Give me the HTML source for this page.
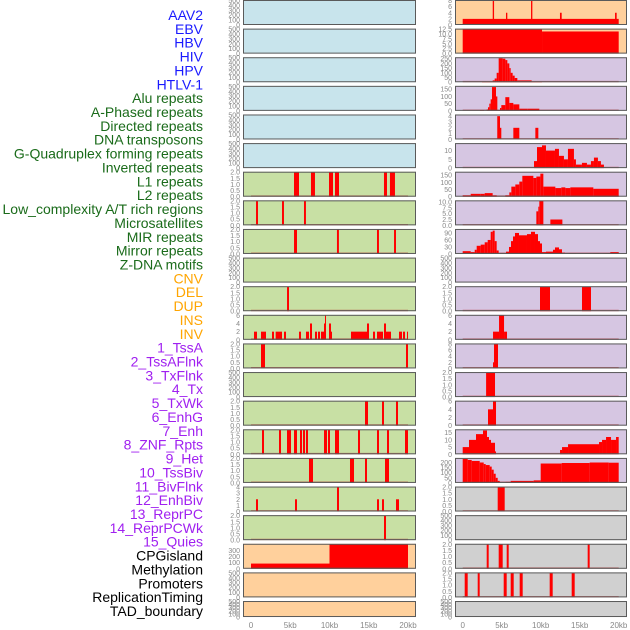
<!DOCTYPE html>
<html><head><meta charset="utf-8">
<style>
html,body{margin:0;padding:0;background:#fff;width:630px;height:630px;overflow:hidden}
svg{display:block}
text{font-family:"Liberation Sans",sans-serif}
</style></head>
<body>
<svg id="chart" width="630" height="630" viewBox="0 0 630 630" xmlns="http://www.w3.org/2000/svg"></svg>
<script>
// ---- data ----
const trackLabels = ["AAV2","EBV","HBV","HIV","HPV","HTLV-1","Alu repeats","A-Phased repeats","Directed repeats","DNA transposons","G-Quadruplex forming repeats","Inverted repeats","L1 repeats","L2 repeats","Low_complexity A/T rich regions","Microsatellites","MIR repeats","Mirror repeats","Z-DNA motifs","CNV","DEL","DUP","INS","INV","1_TssA","2_TssAFlnk","3_TxFlnk","4_Tx","5_TxWk","6_EnhG","7_Enh","8_ZNF_Rpts","9_Het","10_TssBiv","11_BivFlnk","12_EnhBiv","13_ReprPC","14_ReprPCWk","15_Quies","CPGisland","Methylation","Promoters","ReplicationTiming","TAD_boundary"];
const labelGroups = [6,13,5,15,5];
const xTicks = [0,5000,10000,15000,20000];
const xTickLabels = ["0","5kb","10kb","15kb","20kb"];
const tk500 = [0,100,200,300,400,500];
const tk2 = [0,0.5,1.0,1.5,2.0];
const tk2L = ["0.0","0.5","1.0","1.5","2.0"];
// left column panels: segments [start, end, value]
const leftBg = ["b","b","b","b","b","b","g","g","g","g","g","g","g","g","g","g","g","g","g","o","o","o"];
const leftMax = [500,500,500,500,500,500,2,2,2,500,2,6,2,500,2,2,2,4,2,400,500,500];
const leftTicks = [tk500,tk500,tk500,tk500,tk500,tk500,tk2,tk2,tk2,tk500,tk2,[0,2,4,6],tk2,tk500,tk2,tk2,tk2,[0,1,2,3,4],tk2,[0,100,200,300],tk500,tk500];
const leftSegs = [
 [],[],[],[],[],[],
 [[5478,6115,2],[7640,8150,2],[9936,10446,2],[10700,11210,2],[16940,17325,2],[17700,18340,2]],
 [[640,890,2],[3950,4200,2],[6750,7000,2]],
 [[5480,5860,2],[10950,11200,2],[16050,16300,2],[18220,18470,2]],
 [],
 [[4590,4840,2]],
 [[382,764,2],[1274,1911,2],[2675,2930,2],[3142,3949,2],[4204,4459,2],[6115,6370,2],[7006,7389,2],[7516,7771,4],[8153,8408,2],[8535,8790,2],[8917,9300,2],[9300,9427,4],[9427,9554,6],[9936,10190,4],[10190,10319,2],[12739,14777,2],[14777,15032,4],[15541,15796,2],[16051,16815,2],[16943,17198,4],[17198,17835,2],[18854,19236,2],[19363,19618,2],[19873,20128,2]],
 [[1274,1783,2],[19745,20255,2]],
 [],
 [[14523,14905,2],[16688,16943,2],[18472,18726,2]],
 [[1401,1656,2],[3567,3822,2],[4586,5096,2],[5478,5860,2],[6242,6497,2],[6624,6879,2],[7006,7261,2],[9300,9682,2],[9809,10064,2],[10701,11210,2],[13631,13886,2],[16051,16306,2],[17325,17580,2],[19618,20128,2]],
 [[7389,7898,2],[12611,13121,2],[14523,14777,2],[17070,17580,2]],
 [[637,892,2],[5605,5860,2],[10955,11210,4],[16051,16306,2],[16688,16943,2],[18472,18854,2]],
 [[16943,17198,2]],
 [[0,10000,85],[10000,20000,400]],
 [],[]
];
// right column panels
const rightBg = ["o","o","p","p","p","p","p","p","p","p","p","p","p","p","p","p","p","y","y","y","y","y"];
const rightMax = [8,12.5,260,170,4.2,14,170,10.5,105,500,2,6,8,2,6,17,240,2,500,2,2,500];
const rightTicks = [[0,2,4,6,8],[0,2.5,5,7.5,10,12.5],[0,50,100,150,200,250],[0,50,100,150],[0,1,2,3,4],[0,5,10],[0,50,100,150],[0,2.5,5,7.5,10],[0,30,60,90],tk500,tk2,[0,2,4,6],[0,2,4,6,8],tk2,[0,2,4,6],[0,5,10,15],[0,50,100,150,200],tk2,tk500,tk2,tk2,tk500];
const rightSegs = [
 [[0,20000,2],[3850,4020,8],[5550,5720,4],[8760,8930,8],[12470,12690,4],[19530,19740,4]],
 [[0,10170,12.5],[10170,20000,11.3]],
 [[2474,3842,8],[3842,4098,20],[4098,4355,40],[4355,4611,100],[4611,5124,255],[5124,5466,250],[5466,5722,235],[5722,5978,200],[5978,6150,150],[6150,6405,100],[6405,6662,70],[6662,7004,45],[7004,8841,20],[8841,10166,8]],
 [[2218,2731,5],[3072,3244,10],[3244,3415,25],[3415,3585,50],[3585,3756,80],[3756,4269,165],[4269,4440,100],[4440,4782,5],[4782,4952,20],[4952,5465,40],[5465,5978,95],[5978,6491,55],[6491,7260,45],[7260,8283,15],[8283,9821,15]],
 [[4430,4782,4],[4782,4950,2],[6491,7260,2],[9313,9697,2]],
 [[9142,9526,4],[9526,10166,12],[10166,10677,13],[10677,11830,10],[11830,12342,11],[12342,12981,7],[12981,13493,5],[13493,14262,11],[14262,14518,5],[14518,15287,2],[15287,15928,3],[15928,16440,2],[16440,16825,4],[16825,17338,6],[17338,17722,4],[17722,18107,2]],
 [[0,1026,10],[1026,2308,20],[2308,2820,20],[2820,3842,25],[3842,4355,10],[5466,5978,10],[5978,6235,30],[6235,6748,70],[6748,7260,85],[7260,7645,105],[7645,9057,145],[9057,9442,130],[9442,9955,140],[9955,10340,160],[10340,11878,70],[11878,12647,60],[12647,13160,65],[13160,13800,60],[13800,16749,65],[16749,20000,55]],
 [[9442,9697,6],[9697,9825,8],[9825,10340,10.5],[11238,12779,2.5]],
 [[0,1026,12],[1026,1539,8],[1539,1794,18],[1794,2308,35],[2308,2820,40],[2820,3205,50],[3205,3590,60],[3590,3845,95],[3845,4098,100],[4098,4355,55],[4355,4611,15],[5551,5936,10],[5936,6192,30],[6192,6448,55],[6448,6704,75],[6704,7216,90],[7216,8242,80],[8242,8755,85],[8755,9268,95],[9268,9654,85],[9654,9910,55],[9910,10166,45],[10166,10679,8],[10679,11576,10],[11576,11832,18],[11832,12345,28],[12345,12729,20],[12729,13114,6],[13627,14524,4],[16743,17512,4],[18025,18538,4],[18538,18922,4],[18922,20000,8]],
 [],
 [[9910,11192,2],[15294,16448,2]],
 [[3889,4658,2],[4658,5300,6],[5300,5680,2]],
 [[3885,4014,2],[4014,4526,8]],
 [[3000,4142,2]],
 [[3244,3885,4],[3885,4270,6]],
 [[0,808,5],[808,1705,10],[1705,2603,14],[2603,3115,16.5],[3115,3372,12],[3372,3628,10],[3628,4141,8],[4141,4270,2],[12478,12735,3],[12735,13504,5],[13504,17478,7],[17478,17863,8.5],[17863,18376,10],[18376,19017,12],[19017,19658,10],[19658,20000,12]],
 [[0,640,235],[640,1153,225],[1153,2179,215],[2179,2692,200],[2692,2948,185],[2948,3461,175],[3461,3717,160],[3717,3974,130],[3974,4230,90],[4230,4486,50],[4486,4742,20],[5512,6153,10],[6153,9100,20],[9100,9998,25],[9998,12690,190],[12690,16279,195],[16279,18714,200],[18714,20000,198]],
 [[4486,5383,2]],
 [],
 [[3076,3332,2],[4614,5127,2],[5640,5896,2],[16022,16279,2]],
 [[256,640,2],[1923,2179,2],[5256,5640,2],[6153,6538,2],[7307,7691,2],[11152,11537,2],[13972,14357,2]],
 []
];
// ---- layout ----
const NS = "http://www.w3.org/2000/svg";
const svg = document.getElementById("chart");
const bgColors = {b:"#c8e4ec",g:"#c8e0a4",o:"#ffd09c",p:"#d6c6e2",y:"#d0d0d0"};
const pitch = 28.62, panelH = 25;
const cols = [{x0:243,x1:416,ax0:251,ax1:408,bg:leftBg,mx:leftMax,tk:leftTicks,seg:leftSegs,name:"left"},
              {x0:455,x1:627,ax0:462.7,ax1:618.7,bg:rightBg,mx:rightMax,tk:rightTicks,seg:rightSegs,name:"right"}];
function mk(tag, attrs){const e=document.createElementNS(NS,tag);for(const k in attrs)e.setAttribute(k,attrs[k]);return e;}
function fmt(v, ticks){ if(ticks===tk2) return v.toFixed(1); if(ticks.some(t=>t%1!==0)) return v.toFixed(1); return String(v);}
cols.forEach(c=>{
  const xs = v => c.ax0 + (Math.min(Math.max(v,0),20000))/20000*(c.ax1-c.ax0);
  for(let i=0;i<22;i++){
    const top = i*pitch, h = (i===21)? 16 : panelH, bot = top+h;
    const g = mk("g",{});
    
    
    svg.appendChild(g);
    const bg = mk("rect",{x:c.x0,y:top,width:c.x1-c.x0,height:h,fill:bgColors[c.bg[i]]});
    
    
    g.appendChild(bg);
    const ys = v => bot - v/c.mx[i]*(h-0.5);
    const segs = c.seg[i];
    segs.forEach(s=>{
      const r = mk("rect",{x:xs(s[0]),y:ys(s[2]),width:Math.max(xs(s[1])-xs(s[0]),1),height:bot-ys(s[2]),fill:"#ff0000"});
      
      
      g.appendChild(r);
    });
    if(segs.length){
      const bl = mk("line",{x1:xs(0),x2:xs(20000),y1:bot-0.7,y2:bot-0.7,stroke:"#b22222","stroke-opacity":0.55,"stroke-width":1.4});
      
      
      g.appendChild(bl);
    }
    const bd = mk("rect",{x:c.x0+0.5,y:top+0.5,width:c.x1-c.x0-1,height:h-1,fill:"none",stroke:"#5a5a5a","stroke-width":1});
    
    
    g.appendChild(bd);
    c.tk[i].forEach(t=>{
      const y = ys(t);
      const tx = mk("text",{x:c.x0-3,y:y+2.5,"text-anchor":"end","font-size":7,fill:"#888"});
      tx.textContent = fmt(t, c.tk[i]);
      
      
      g.appendChild(tx);
    });
  }
  xTicks.forEach((t,j)=>{
    const tx = mk("text",{x:xs(t),y:628,"text-anchor":"middle","font-size":8,fill:"#888"});
    tx.textContent = xTickLabels[j];
    
    
    svg.appendChild(tx);
  });
});
const groupColors = ["#1a1aff","#1a6b1a","#ffa500","#a020f0","#000000"];
let idx=0;
labelGroups.forEach((n,gi)=>{
  for(let k=0;k<n;k++){
    const y = 15 + idx*(596/43);
    const tx = mk("text",{x:203,y:y+5,"text-anchor":"end","font-size":14,fill:groupColors[gi]});
    tx.textContent = trackLabels[idx];
    
    
    svg.appendChild(tx);
    idx++;
  }
});
</script>
</body></html>
